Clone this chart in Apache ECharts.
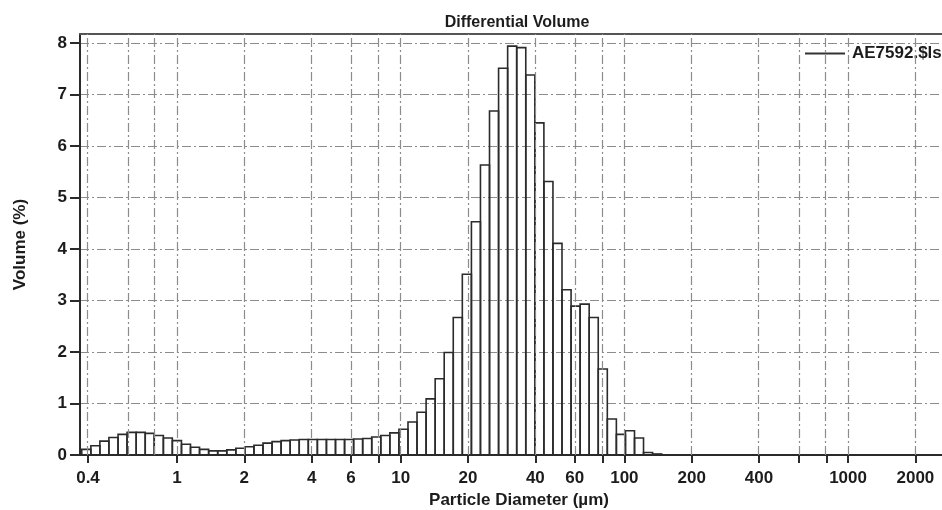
<!DOCTYPE html>
<html>
<head>
<meta charset="utf-8">
<script src="https://cdn.jsdelivr.net/npm/echarts@6/dist/echarts.min.js"></script>
<style>
html,body{margin:0;padding:0;background:#fff;}
#chart{width:942px;height:510px;}
</style>
</head>
<body>
<div id="chart"></div>
<script>
// Channel edges (µm) of the size classes
const binEdges = [0.375, 0.412, 0.452, 0.496, 0.545, 0.598, 0.657, 0.721, 0.791, 0.869,
  0.953, 1.047, 1.149, 1.261, 1.385, 1.520, 1.669, 1.832, 2.011, 2.208,
  2.423, 2.660, 2.920, 3.206, 3.519, 3.863, 4.241, 4.656, 5.111, 5.611,
  6.159, 6.761, 7.422, 8.148, 8.944, 9.819, 10.78, 11.83, 12.99, 14.26,
  15.65, 17.18, 18.86, 20.71, 22.73, 24.95, 27.39, 30.07, 33.01, 36.24,
  39.78, 43.67, 47.94, 52.62, 57.77, 63.41, 69.61, 76.42, 83.89, 92.09,
  101.1, 111.0, 121.8, 133.7, 146.8];
// Differential volume (%) per channel
const volumes = [0.11, 0.18, 0.27, 0.34, 0.40, 0.44, 0.44, 0.42, 0.38, 0.33,
  0.28, 0.21, 0.15, 0.11, 0.08, 0.08, 0.10, 0.13, 0.16, 0.19,
  0.23, 0.26, 0.28, 0.29, 0.30, 0.30, 0.30, 0.30, 0.30, 0.30,
  0.31, 0.32, 0.35, 0.38, 0.43, 0.50, 0.64, 0.83, 1.09, 1.48,
  1.99, 2.67, 3.51, 4.53, 5.63, 6.68, 7.51, 7.94, 7.91, 7.38,
  6.45, 5.31, 4.11, 3.21, 2.89, 2.93, 2.67, 1.67, 0.70, 0.40,
  0.47, 0.33, 0.05, 0.02];
const xLabelValues = [0.4, 1, 2, 4, 6, 10, 20, 40, 60, 100, 200, 400, 1000, 2000];
const xTickValues = [0.4, 1, 2, 4, 6, 8, 10, 20, 40, 60, 80, 100, 200, 400, 600, 800, 1000, 2000];
const xGridValues = [0.4, 0.6, 0.8, 1, 2, 4, 6, 8, 10, 20, 40, 60, 80, 100, 200, 400, 600, 800, 1000, 2000];
const seriesName = 'AE7592.$ls';

const lg = Math.log10;
const barData = volumes.map((v, k) => [lg(binEdges[k]), lg(binEdges[k + 1]), v]);
const FONT = 'Liberation Sans, Arial, Helvetica, sans-serif';
const TXT = '#1c1c1c';
const GRIDSTYLE = { color: '#8c8c8c', width: 1.2, type: [9, 3, 2, 3] };
const XMIN = -0.4337, XMAX = 3.42;

const chart = echarts.init(document.getElementById('chart'), null, { renderer: 'canvas' });
chart.setOption({
  animation: false,
  backgroundColor: '#fff',
  title: {
    text: 'Differential Volume', left: 512, top: 10, textAlign: 'center',
    textStyle: { fontFamily: FONT, fontSize: 16, fontWeight: 'bold', color: TXT }
  },
  legend: {
    left: 800, top: 40, itemWidth: 40, itemHeight: 2, itemGap: 5,
    data: [{ name: seriesName, icon: 'rect' }],
    textStyle: { fontFamily: FONT, fontSize: 17, fontWeight: 'bold', color: TXT, padding: [0, 0, 0, 2] }
  },
  grid: { left: 80, right: 0, top: 34, bottom: 55, show: false, containLabel: false, outerBoundsMode: 'none' },
  xAxis: [{
    type: 'value', min: XMIN, max: XMAX,
    name: 'Particle Diameter (µm)', nameLocation: 'middle', nameGap: 30,
    nameTextStyle: { fontFamily: FONT, fontSize: 17, fontWeight: 'bold', color: TXT, padding: [0, 0, 0, 16] },
    axisLine: { show: true, onZero: false, lineStyle: { color: '#2a2a2a', width: 2 } },
    axisTick: { show: true, length: 8, inside: false, customValues: xTickValues.map(lg), lineStyle: { color: '#2a2a2a', width: 2 } },
    axisLabel: {
      show: true, margin: 15, customValues: xLabelValues.map(lg),
      fontFamily: FONT, fontSize: 17, fontWeight: 'bold', color: TXT,
      formatter: v => String(Math.round(Math.pow(10, v) * 1000) / 1000)
    },
    splitLine: { show: false }
  }, {
    type: 'value', position: 'top', min: XMIN, max: XMAX,
    axisLine: { show: true, onZero: false, lineStyle: { color: '#555', width: 2 } },
    axisTick: { show: false }, axisLabel: { show: false }, splitLine: { show: false }
  }],
  yAxis: {
    type: 'value', min: 0, max: 8.175, interval: 1,
    name: 'Volume (%)', nameLocation: 'middle', nameGap: 51,
    nameTextStyle: { fontFamily: FONT, fontSize: 17, fontWeight: 'bold', color: TXT },
    axisLine: { show: true, onZero: false, lineStyle: { color: '#2a2a2a', width: 2 } },
    axisTick: { show: true, length: 10, lineStyle: { color: '#2a2a2a', width: 2 } },
    axisLabel: { margin: 13, fontFamily: FONT, fontSize: 17, fontWeight: 'bold', color: TXT },
    splitLine: { show: true, lineStyle: GRIDSTYLE }
  },
  series: [
    {
      type: 'custom', name: seriesName, data: barData, color: '#333',
      clip: true,
      renderItem: function (params, api) {
        const p0 = api.coord([api.value(0), api.value(2)]);
        const p1 = api.coord([api.value(1), 0]);
        return {
          type: 'rect',
          shape: { x: p0[0], y: p0[1], width: p1[0] - p0[0], height: p1[1] - p0[1] },
          style: { fill: 'rgba(0,0,0,0)', stroke: '#2b2b2b', lineWidth: 1.6 }
        };
      },
      markLine: {
        silent: true, symbol: 'none', label: { show: false },
        lineStyle: GRIDSTYLE,
        data: xGridValues.map(v => ({ xAxis: lg(v) }))
      },
      z: 3
    }
  ]
});
</script>
</body>
</html>
